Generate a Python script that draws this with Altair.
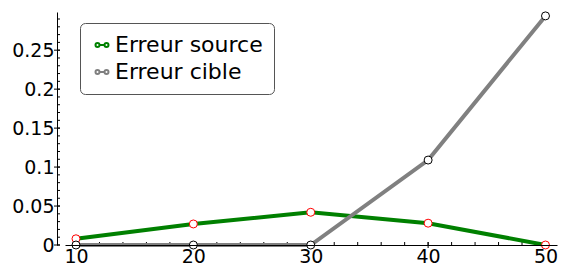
import altair as alt
import pandas as pd

x_vals = [10, 20, 30, 40, 50]
source_vals = [0.008, 0.027, 0.042, 0.028, 0.0]
cible_vals = [0.0, 0.0, 0.0, 0.109, 0.294]
series_names = ["Erreur source", "Erreur cible"]
y_major = [0, 0.05, 0.1, 0.15, 0.2, 0.25]
y_minor = [i / 100 for i in range(0, 30)]
x_major = [10, 20, 30, 40, 50]
x_minor = list(range(10, 51, 2))

rows = []
for xv, s in zip(x_vals, source_vals):
    rows.append({"x": xv, "value": s, "series": series_names[0]})
for xv, c in zip(x_vals, cible_vals):
    rows.append({"x": xv, "value": c, "series": series_names[1]})
df = pd.DataFrame(rows)

FONT = "DejaVu Sans"
xscale = alt.Scale(domain=[9.063, 50.98], nice=False, zero=False)
yscale = alt.Scale(domain=[0, 0.299], nice=False, zero=False)

xaxis = alt.Axis(values=x_major, ticks=False, grid=False, title=None,
                 labelFontSize=19, labelFont=FONT, labelColor="black",
                 labelPadding=2, domainColor="black", zindex=1)
yaxis = alt.Axis(values=y_major, format="~g", ticks=False, grid=False,
                 title=None, offset=8, labelFontSize=19, labelFont=FONT,
                 labelColor="black", labelPadding=3, domainColor="black")

sym_path = ("M-0.5,0L0.5,0"
            "M-1.3,0a0.4,0.4 0 1,0 0.8,0a0.4,0.4 0 1,0 -0.8,0"
            "M0.5,0a0.4,0.4 0 1,0 0.8,0a0.4,0.4 0 1,0 -0.8,0")

lines = alt.Chart(df).mark_line(strokeWidth=4).encode(
    x=alt.X("x:Q", scale=xscale, axis=xaxis),
    y=alt.Y("value:Q", scale=yscale, axis=yaxis),
    color=alt.Color("series:N",
                    scale=alt.Scale(domain=series_names, range=["#008000", "#808080"]),
                    legend=alt.Legend(title=None, orient="none", legendX=15, legendY=11,
                                      labelFontSize=22, labelFont=FONT, labelColor="black",
                                      symbolType=sym_path, symbolSize=100,
                                      symbolStrokeWidth=2, symbolFillColor="white",
                                      padding=11, rowPadding=5,
                                      labelOffset=2, strokeColor="#555",
                                      cornerRadius=5, fillColor="white", labelLimit=300)),
)

points = alt.Chart(df).mark_point(shape="circle", filled=False, fill="white",
                                  fillOpacity=1, size=64, strokeWidth=1, opacity=1).encode(
    x=alt.X("x:Q", scale=xscale, axis=xaxis),
    y=alt.Y("value:Q", scale=yscale, axis=yaxis),
    stroke=alt.Stroke("series:N",
                      scale=alt.Scale(domain=series_names, range=["red", "black"]),
                      legend=None),
)

ymaj = alt.Chart(pd.DataFrame({"v": y_major})).mark_rule(color="black", strokeWidth=1).encode(
    y=alt.Y("v:Q", scale=yscale, axis=yaxis), x=alt.value(-11), x2=alt.value(-5))
ymin = alt.Chart(pd.DataFrame({"v": y_minor})).mark_rule(color="black", strokeWidth=1).encode(
    y=alt.Y("v:Q", scale=yscale, axis=yaxis), x=alt.value(-8), x2=alt.value(-5))
xmaj = alt.Chart(pd.DataFrame({"v": x_major})).mark_rule(color="black", strokeWidth=1).encode(
    x=alt.X("v:Q", scale=xscale, axis=xaxis), y=alt.value(230), y2=alt.value(236))
xmin = alt.Chart(pd.DataFrame({"v": x_minor})).mark_rule(color="black", strokeWidth=1).encode(
    x=alt.X("v:Q", scale=xscale, axis=xaxis), y=alt.value(230), y2=alt.value(233))

chart = alt.layer(ymin, ymaj, xmin, xmaj, lines, points).resolve_scale(
    color="independent", stroke="independent"
).properties(
    width=492, height=233,
    autosize=alt.AutoSizeParams(type="none"),
    padding={"left": 57, "top": 4, "right": 1, "bottom": 21},
    background="white",
).configure_view(stroke=None)

chart.save("out.html", embed_options={"renderer": "svg", "actions": False})
